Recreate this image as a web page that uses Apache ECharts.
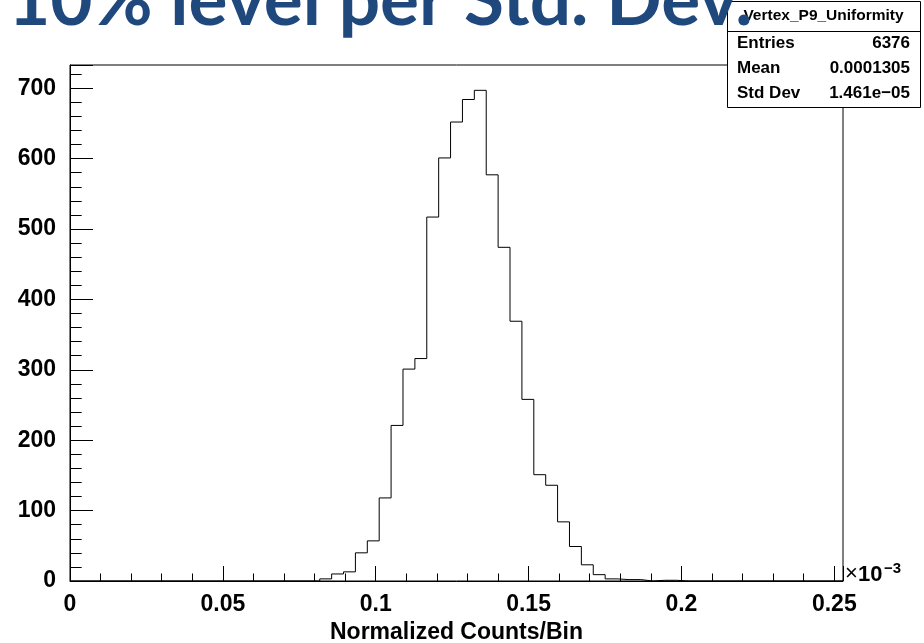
<!DOCTYPE html>
<html>
<head>
<meta charset="utf-8">
<script src="https://cdn.jsdelivr.net/npm/echarts@6/dist/echarts.min.js"></script>
<style>
  html, body { margin: 0; padding: 0; background: #ffffff; }
  #chart { width: 924px; height: 643px; }
</style>
</head>
<body>
<div id="chart"></div>
<script>
// Slide heading and histogram name
const slideTitle = '10% level per Std. Dev.';
const histName = 'Vertex_P9_Uniformity';

// Binning (x in units of 1e-3)
const binStart = 0;
const binWidth = 0.00389;
const binCounts = [
  0, 0, 0, 0, 0, 0, 0, 0, 0, 0,
  0, 0, 0, 0, 0, 0, 0, 0, 0, 0,
  0, 3, 10, 13, 40, 57, 118, 221, 301, 316,
  517, 601, 652, 684, 697, 577, 474, 369, 258, 151,
  136, 84, 49, 23, 9, 3, 2, 2, 0, 1,
  1, 0, 0, 0, 0, 0, 0, 0, 0, 0,
  0, 0, 0, 0, 0
];

// Axis tick labels
const xTickLabels = [0, 0.05, 0.1, 0.15, 0.2, 0.25];
const yTickLabels = [0, 100, 200, 300, 400, 500, 600, 700];
const yMax = 733;
const xTitle = 'Normalized Counts/Bin';

// Statistics box
const statsLabels = ['Entries', 'Mean', 'Std Dev'];
const statsValues = ['6376', '0.0001305', '1.461e\u221205'];

const xMax = binStart + binCounts.length * binWidth;

// Outline points at the left edge of each bin, closed at the last right edge
const outline = binCounts.map((c, i) => [binStart + i * binWidth, c]);
outline.push([xMax, 0]);

const axisFont = { fontFamily: 'Liberation Sans', fontWeight: 'bold', fontSize: 23, color: '#000' };

function isTick(list, v) {
  return list.some(t => Math.abs(t - v) < 1e-9);
}

const chart = echarts.init(document.getElementById('chart'), null, { renderer: 'canvas' });

const statsRows = [];
statsLabels.forEach((lab, i) => {
  const y = 43 + i * 25;
  statsRows.push({
    type: 'text', z: 12, x: 737, y: y,
    style: { text: lab, fill: '#000', font: 'bold 17px "Liberation Sans"', textAlign: 'left', textVerticalAlign: 'middle' }
  });
  statsRows.push({
    type: 'text', z: 12, x: 910, y: y,
    style: { text: statsValues[i], fill: '#000', font: 'bold 17px "Liberation Sans"', textAlign: 'right', textVerticalAlign: 'middle' }
  });
});

chart.setOption({
  animation: false,
  backgroundColor: '#ffffff',
  grid: {
    left: 70, right: 81, top: 65, bottom: 62,
    outerBoundsMode: 'none', containLabel: false,
    show: true, borderColor: '#000', borderWidth: 1, backgroundColor: 'transparent'
  },
  xAxis: [
    {
      type: 'value', min: binStart, max: xMax, interval: 0.05, position: 'bottom',
      axisLine: { show: true, onZero: false, lineStyle: { color: '#000', width: 1 } },
      axisTick: { show: true, inside: true, length: 15, lineStyle: { color: '#000', width: 1 } },
      axisLabel: {
        show: true, margin: 12, ...axisFont,
        formatter: v => isTick(xTickLabels, v) ? String(+v.toFixed(2)) : ''
      },
      splitLine: { show: false },
      name: xTitle, nameLocation: 'middle', nameGap: 38,
      nameTextStyle: axisFont
    },
    {
      type: 'value', min: binStart, max: xMax, interval: 0.01, position: 'bottom',
      axisLine: { show: false },
      axisTick: { show: true, inside: true, length: 7.5, lineStyle: { color: '#000', width: 1 } },
      axisLabel: { show: false },
      splitLine: { show: false }
    }
  ],
  yAxis: [
    {
      type: 'value', min: 0, max: yMax, interval: 100, position: 'left',
      axisLine: { show: true, onZero: false, lineStyle: { color: '#000', width: 1 } },
      axisTick: { show: true, inside: true, length: 23, lineStyle: { color: '#000', width: 1 } },
      axisLabel: {
        show: true, margin: 14, ...axisFont,
        formatter: v => isTick(yTickLabels, v) ? String(v) : ''
      },
      splitLine: { show: false }
    },
    {
      type: 'value', min: 0, max: yMax, interval: 20, position: 'left',
      axisLine: { show: false },
      axisTick: { show: true, inside: true, length: 11.7, lineStyle: { color: '#000', width: 1 } },
      axisLabel: { show: false },
      splitLine: { show: false }
    }
  ],
  series: [
    {
      type: 'line', xAxisIndex: 0, yAxisIndex: 0,
      step: 'end', data: outline,
      symbol: 'none', showSymbol: false,
      lineStyle: { color: '#000', width: 1 },
      z: 5
    }
  ],
  graphic: [
    // axis multiplier
    {
      type: 'text', z: 6, x: 845, y: 585,
      style: { text: '\u00d7', fill: '#000', font: '22px "Liberation Sans"', textAlign: 'left', textVerticalAlign: 'bottom' }
    },
    {
      type: 'text', z: 6, x: 858, y: 586,
      style: { text: '10', fill: '#000', font: 'bold 22px "Liberation Sans"', textAlign: 'left', textVerticalAlign: 'bottom' }
    },
    {
      type: 'text', z: 6, x: 884, y: 561,
      style: { text: '\u22123', fill: '#000', font: 'bold 15px "Liberation Sans"', textAlign: 'left', textVerticalAlign: 'top' }
    },
    // statistics box
    {
      type: 'rect', z: 10,
      shape: { x: 727.5, y: 1.5, width: 193, height: 106 },
      style: { fill: '#fff', stroke: '#000', lineWidth: 1 }
    },
    {
      type: 'line', z: 11,
      shape: { x1: 727.5, y1: 31.5, x2: 920.5, y2: 31.5 },
      style: { stroke: '#000', lineWidth: 1 }
    },
    {
      type: 'text', z: 12, x: 823.5, y: 16,
      style: { text: histName, fill: '#000', font: 'bold 15.5px "Liberation Sans"', textAlign: 'center', textVerticalAlign: 'middle' }
    },
    ...statsRows,
    // slide heading, partly above the page edge
    {
      type: 'text', z: 20, x: 8, y: 38,
      style: { text: slideTitle, fill: '#1F497D', font: 'bold 73px Lato', textAlign: 'left', textVerticalAlign: 'bottom' }
    }
  ]
});
</script>
</body>
</html>
